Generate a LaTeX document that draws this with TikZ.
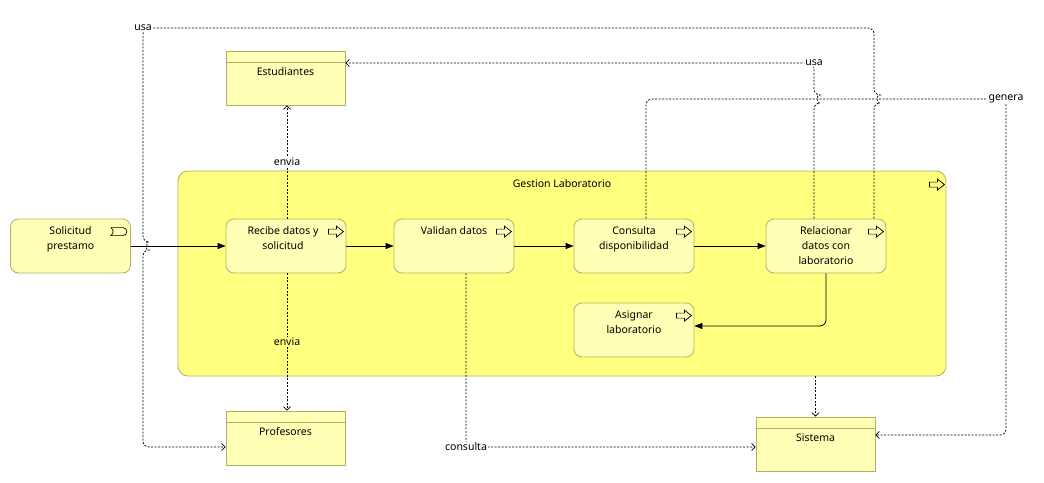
\documentclass[tikz,border=0pt]{standalone}
\usepackage{fontspec}
\setmainfont{Noto Sans}
\usetikzlibrary{arrows.meta}
\definecolor{grp}{RGB}{255,255,128}
\definecolor{proc}{RGB}{255,255,181}
\definecolor{bord}{RGB}{176,176,100}
\tikzset{
  box/.style={draw=bord, fill=proc, rounded corners=8pt, minimum width=120pt, minimum height=54pt, inner sep=0pt, line width=0.8pt},
  obj/.style={draw=bord, fill=proc, minimum width=119pt, minimum height=54pt, inner sep=0pt, line width=0.8pt},
  txt/.style={anchor=north, align=center, inner sep=0pt, yshift=-8pt},
  otxt/.style={anchor=north, align=center, inner sep=0pt, yshift=-16.5pt},
  flow/.style={line width=0.8pt, -{Triangle[length=8pt,width=6pt]}},
  dep/.style={line width=0.75pt, dash pattern=on 2pt off 1.5pt, -{Straight Barb[length=3.5pt,width=7pt]}, rounded corners=6pt},
  lbl/.style={inner sep=1pt, fill=white},
  procicon/.pic={\draw[line width=0.7pt] (0,-2.5)--(8,-2.5)--(8,-5.5)--(15,0)--(8,5.5)--(8,2.5)--(0,2.5)--cycle;},
  eventicon/.pic={\draw[line width=0.7pt] (0,0) -- (12,0) arc[start angle=-90, end angle=90, radius=4] -- (0,8) .. controls (3,5.5) and (3,2.5) .. (0,0);}
}
\begin{document}
\begin{tikzpicture}[x=1pt,y=-1pt, font=\fontsize{10.5}{15}\selectfont]
\useasboundingbox (0,0) rectangle (1044,482);
% group
\node[box, fill=grp, minimum width=768pt, minimum height=205pt, rounded corners=10pt,
  label={[txt,yshift=-1pt]north:Gestion Laboratorio}] (gest) at (562,273.5) {};
\pic at ([xshift=-17pt,yshift=-14pt]gest.north east) {procicon};
% event
\node[box, label={[txt]north:Solicitud\\prestamo}] (sol) at (70.5,246) {};
\pic at ([xshift=-20pt,yshift=-9pt]sol.north east) {eventicon};
% processes
\node[box, label={[txt,xshift=-3pt]north:Recibe datos y\\solicitud}] (rec) at (286,246) {};
\node[box, label={[txt]north:Validan datos}] (val) at (454,246) {};
\node[box, label={[txt]north:Consulta\\disponibilidad}] (con) at (634,246) {};
\node[box, label={[txt]north:Relacionar\\datos con\\laboratorio}] (rel) at (826,246) {};
\node[box, label={[txt]north:Asignar\\laboratorio}] (asi) at (634,330) {};
\foreach \n in {rec,val,con,rel,asi}{\pic at ([xshift=-18pt,yshift=-13pt]\n.north east) {procicon};}
% objects
\node[obj, label={[otxt]north:Estudiantes}] (est) at (285.5,78) {};
\node[obj, label={[otxt]north:Profesores}] (prof) at (285.5,438) {};
\node[obj, label={[otxt]north:Sistema}] (sis) at (815.5,444) {};
\foreach \n in {est,prof,sis}{\draw[draw=bord, line width=0.8pt] ([yshift=-12pt]\n.north west) -- ([yshift=-12pt]\n.north east);}
% flows
\draw[flow] (sol.east) -- (rec.west);
\draw[flow] (rec.east) -- (val.west);
\draw[flow] (val.east) -- (con.west);
\draw[flow] (con.east) -- (rel.west);
\draw[flow, rounded corners=6pt] (rel.south) |- ([yshift=4pt]asi.east);
% dependencies
\draw[dep] ([xshift=1pt]rec.north) -- node[lbl]{envia} ([xshift=1pt]rec.north |- est.south);
\draw[dep] ([xshift=1pt]rec.south) -- node[lbl, fill=grp]{envia} ([xshift=1pt]rec.south |- prof.north);
\draw[dep] ([xshift=12pt]val.south) |- node[lbl]{consulta} ([yshift=-3pt]sis.west);
\draw[dep] (gest.south -| sis.north) -- (sis.north);
\draw[dep] ([xshift=12pt]con.north) |- (1006,99) node[lbl]{genera} |- ([yshift=9pt]sis.east);
\draw[dep] ([xshift=-12pt]rel.north) -- (814,103) arc[start angle=90, end angle=-90, radius=4] -- (814,63) node[lbl]{usa} -- ([yshift=15pt]est.east);
\draw[dep] ([xshift=48pt]rel.north) -- (874,103) arc[start angle=90, end angle=-90, radius=4] -- (874,28) -- (143,28) node[lbl]{usa} -- (143,242) arc[start angle=-90, end angle=90, radius=4] -- (143,447) -- ([yshift=-9pt]prof.west);
\end{tikzpicture}
\end{document}
